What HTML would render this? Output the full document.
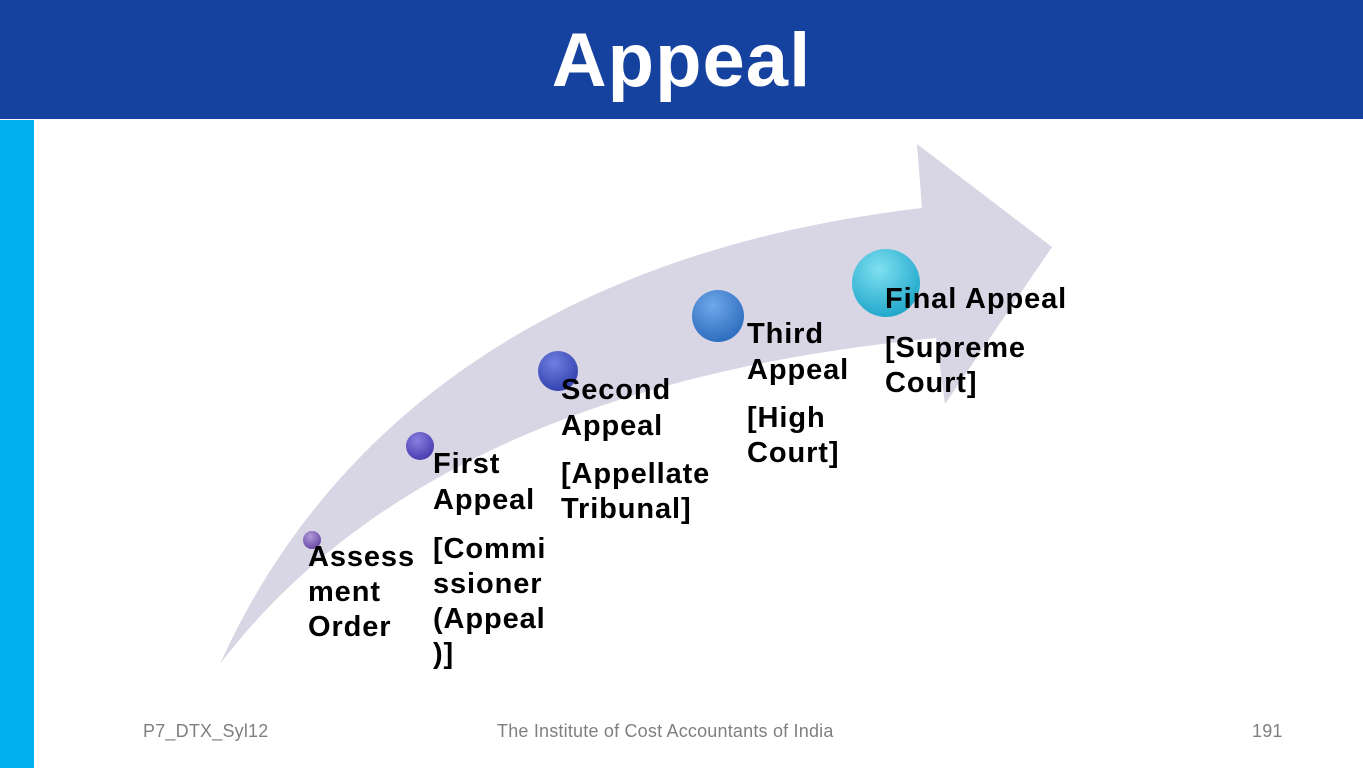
<!DOCTYPE html>
<html><head><style>
body{margin:0;width:1363px;height:768px;position:relative;overflow:hidden;background:#fff;font-family:"Liberation Sans",sans-serif}
.hdr{position:absolute;left:0;top:0;width:1363px;height:119px;background:#16429f}
.title{position:absolute;left:0;width:1363px;top:16px;text-align:center;color:#fff;font-weight:bold;font-size:76px;line-height:90px;letter-spacing:1px}
.bar{position:absolute;left:0;top:120px;width:34px;height:648px;background:#00b0f0}
.t{position:absolute;font-weight:bold;font-size:29px;color:#000;letter-spacing:0.9px;white-space:nowrap}
.f{position:absolute;top:721px;font-size:18px;color:#7f7f7f;letter-spacing:0.2px}
</style></head><body>
<div class="hdr"></div><div class="title">Appeal</div>
<div class="bar"></div>
<svg width="1363" height="768" style="position:absolute;left:0;top:0">
<defs>
<radialGradient id="g1" cx="40%" cy="30%" r="70%"><stop offset="0" stop-color="#b09ad8"/><stop offset="1" stop-color="#6a4aa8"/></radialGradient>
<radialGradient id="g2" cx="40%" cy="30%" r="70%"><stop offset="0" stop-color="#8a80e0"/><stop offset="1" stop-color="#4a3eb0"/></radialGradient>
<radialGradient id="g3" cx="40%" cy="30%" r="70%"><stop offset="0" stop-color="#6f80e0"/><stop offset="1" stop-color="#3443b0"/></radialGradient>
<radialGradient id="g4" cx="40%" cy="30%" r="70%"><stop offset="0" stop-color="#6fa8e8"/><stop offset="1" stop-color="#2f6ec0"/></radialGradient>
<radialGradient id="g5" cx="40%" cy="30%" r="70%"><stop offset="0" stop-color="#7fe0f0"/><stop offset="1" stop-color="#22a8cc"/></radialGradient>
</defs>
<path d="M220,664 C330,420 560,250 922,208 L917,144 L1052,247 L945,404 L936,338 C600,370 360,480 220,664 Z" fill="#d8d5e4"/>
<circle cx="312" cy="540" r="9" fill="url(#g1)"/>
<circle cx="420" cy="446" r="14" fill="url(#g2)"/>
<circle cx="558" cy="371" r="20" fill="url(#g3)"/>
<circle cx="718" cy="316" r="26" fill="url(#g4)"/>
<circle cx="886" cy="283" r="34" fill="url(#g5)"/>
</svg>
<div class="t" style="left:308px;top:540px;line-height:35px">Assess<br>ment<br>Order</div>
<div class="t" style="left:433px;top:446px;line-height:36px">First<br>Appeal</div>
<div class="t" style="left:433px;top:532px;line-height:35px">[Commi<br>ssioner<br>(Appeal<br>)]</div>
<div class="t" style="left:561px;top:372px;line-height:36px">Second<br>Appeal</div>
<div class="t" style="left:561px;top:457px;line-height:35px">[Appellate<br>Tribunal]</div>
<div class="t" style="left:747px;top:316px;line-height:36px">Third<br>Appeal</div>
<div class="t" style="left:747px;top:401px;line-height:35px">[High<br>Court]</div>
<div class="t" style="left:885px;top:282px;line-height:35px">Final Appeal</div>
<div class="t" style="left:885px;top:331px;line-height:35px">[Supreme<br>Court]</div>
<div class="f" style="left:143px">P7_DTX_Syl12</div>
<div class="f" style="left:497px">The Institute of Cost Accountants of India</div>
<div class="f" style="left:1252px">191</div>
</body></html>
